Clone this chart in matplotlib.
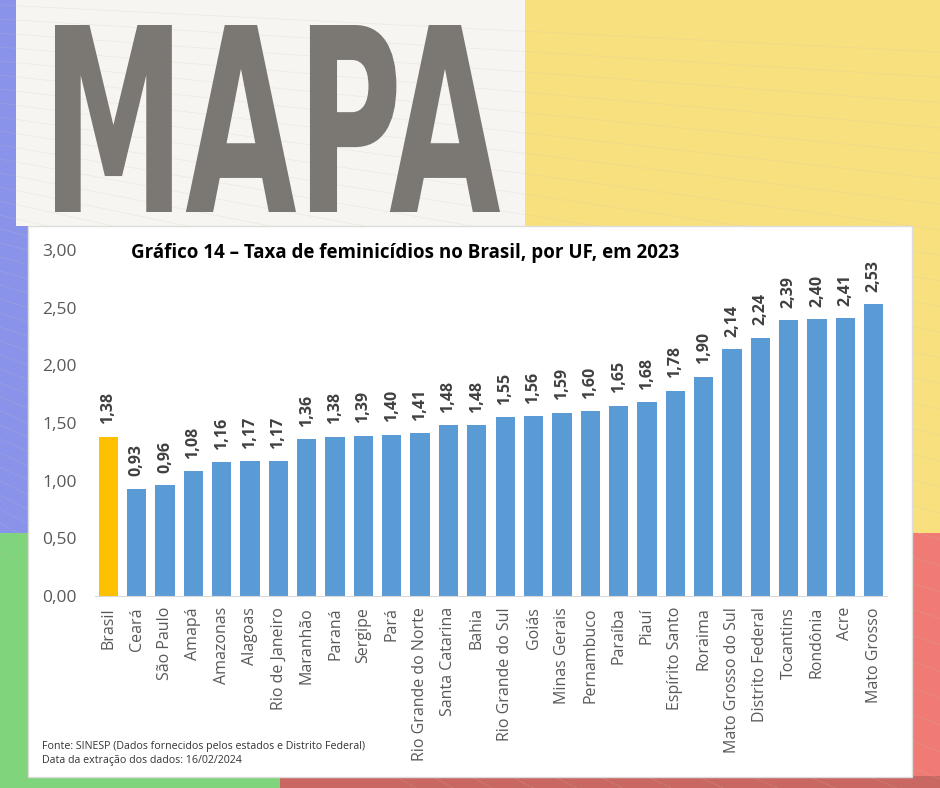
import numpy as np
import matplotlib
matplotlib.use("Agg")
import matplotlib.pyplot as plt
from matplotlib.patches import Rectangle, PathPatch
from matplotlib.textpath import TextPath
from matplotlib.font_manager import FontProperties
from matplotlib.transforms import Affine2D

plt.rcParams['font.family'] = ['Open Sans', 'DejaVu Sans']

# data
estados = ["Brasil", "Ceará", "São Paulo", "Amapá", "Amazonas", "Alagoas", "Rio de Janeiro",
           "Maranhão", "Paraná", "Sergipe", "Pará", "Rio Grande do Norte", "Santa Catarina",
           "Bahia", "Rio Grande do Sul", "Goiás", "Minas Gerais", "Pernambuco", "Paraíba",
           "Piauí", "Espírito Santo", "Roraima", "Mato Grosso do Sul", "Distrito Federal",
           "Tocantins", "Rondônia", "Acre", "Mato Grosso"]
taxas = [1.38, 0.93, 0.96, 1.08, 1.16, 1.17, 1.17, 1.36, 1.38, 1.39, 1.40, 1.41, 1.48,
         1.48, 1.55, 1.56, 1.59, 1.60, 1.65, 1.68, 1.78, 1.90, 2.14, 2.24, 2.39, 2.40,
         2.41, 2.53]
yticks = [0, 0.5, 1.0, 1.5, 2.0, 2.5, 3.0]

W, H = 940, 788
fig = plt.figure(figsize=(W / 100, H / 100), dpi=100)


def px_rect(x0, y0, x1, y1, color, z=0, **kw):
    # rectangle in pixel coords (y from top)
    r = Rectangle((x0 / W, 1 - y1 / H), (x1 - x0) / W, (y1 - y0) / H,
                  transform=fig.transFigure, facecolor=color, zorder=z, **kw)
    fig.add_artist(r)
    return r


# background blocks
px_rect(0, 0, 940, 788, '#f6f5f1', z=-10)
px_rect(0, 0, 16, 533, '#8a93ea', z=-9)
px_rect(0, 226, 30, 533, '#8a93ea', z=-9)
px_rect(0, 533, 280, 788, '#7fd47c', z=-9)
px_rect(280, 533, 940, 788, '#ef7b74', z=-9)
px_rect(525, 0, 940, 533, '#f8e07e', z=-9)
px_rect(280, 776, 940, 788, '#c96763', z=-8)

# faint background lines
for k in range(40):
    a = -0.05 - k * 0.012
    xs = np.array([0, 940])
    ys = 5 + k * 14 + (xs - 0) * np.tan(-a)
    fig.add_artist(plt.Line2D(xs / W, 1 - ys / H, transform=fig.transFigure,
                              color='#c9c5b8', lw=0.5, alpha=0.25, zorder=-7))

# MAPA heading
tp = TextPath((0, 0), "MAPA", prop=FontProperties(family='DejaVu Sans', weight='bold'))
ext = tp.get_extents()
x0, x1, yt, yb = 55, 500, 25, 212
sx = ((x1 - x0) / W) / ext.width
sy = ((yb - yt) / H) / ext.height
tr = Affine2D().translate(-ext.x0, -ext.y0).scale(sx, sy).translate(x0 / W, 1 - yb / H)
fig.add_artist(PathPatch(tp, transform=tr + fig.transFigure, facecolor='#7b7873',
                         edgecolor='none', zorder=-6))

# white chart panel
px_rect(28, 226, 912, 777, 'white', z=-5, edgecolor='#dddddd', linewidth=1)

# axes
ax = fig.add_axes([95 / W, 1 - 596 / H, (887 - 95) / W, (596 - 250) / H])
ax.set_facecolor('none')
x = np.arange(len(estados))
cores = ['#ffc000'] + ['#5b9bd5'] * (len(estados) - 1)
bars = ax.bar(x, taxas, width=0.68, color=cores)
for xi, v in zip(x, taxas):
    ax.annotate(f"{v:.2f}".replace('.', ','), (xi, v), xytext=(0, 9),
                textcoords='offset points', rotation=90, ha='center', va='bottom',
                fontsize=11.5, fontweight='bold', color='#404040')

ax.set_xlim(-0.47, len(estados) - 0.53)
ax.set_ylim(0, 3)
ax.set_yticks(yticks)
ax.set_yticklabels([f"{t:.2f}".replace('.', ',') for t in yticks], fontsize=12.5, color='#595959')
ax.set_xticks(x)
ax.set_xticklabels(estados, rotation=90, fontsize=11.5, color='#595959')
ax.tick_params(axis='y', length=0, pad=13)
ax.tick_params(axis='x', length=0, pad=8)
for s in ['top', 'right', 'left']:
    ax.spines[s].set_visible(False)
ax.spines['bottom'].set_color('#d9d9d9')

fig.text(131 / W, 1 - 253 / H, "Gráfico 14 – Taxa de feminicídios no Brasil, por UF, em 2023",
         ha='left', va='center', fontsize=13.5, fontweight='bold', color='black')
fig.text(42 / W, 1 - 746 / H, "Fonte: SINESP (Dados fornecidos pelos estados e Distrito Federal)",
         ha='left', va='center', fontsize=7.7, color='#333333')
fig.text(42 / W, 1 - 761 / H, "Data da extração dos dados: 16/02/2024",
         ha='left', va='center', fontsize=7.7, color='#333333')

fig.savefig("out.png", dpi=100)
